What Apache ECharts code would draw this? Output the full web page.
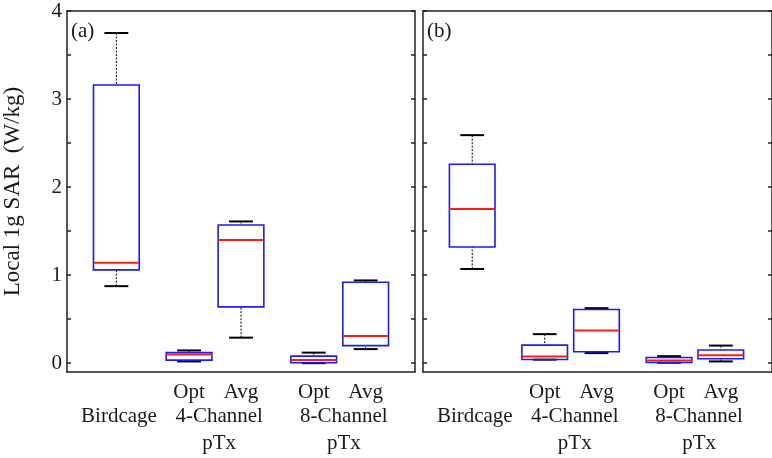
<!DOCTYPE html>
<html>
<head>
<meta charset="utf-8">
<script src="https://cdn.jsdelivr.net/npm/echarts@6/dist/echarts.min.js"></script>
<style>html,body{margin:0;padding:0;background:#fff;}#c{width:772px;height:458px;}</style>
</head>
<body>
<div id="c"></div>
<script>
// ---- data ----
const categories = ['Birdcage', '4-Channel Opt', '4-Channel Avg', '8-Channel Opt', '8-Channel Avg'];
const positions = [1, 2.4, 3.4, 4.8, 5.8];
// each row: [lower whisker, q1, median, q3, upper whisker]
const panelA = [
  [0.875, 1.06, 1.14, 3.16, 3.75],
  [0.02, 0.035, 0.10, 0.12, 0.145],
  [0.29, 0.64, 1.40, 1.57, 1.61],
  [0.00, 0.005, 0.035, 0.08, 0.12],
  [0.16, 0.20, 0.31, 0.92, 0.94]
];
const panelB = [
  [1.07, 1.32, 1.75, 2.26, 2.59],
  [0.04, 0.042, 0.076, 0.205, 0.33],
  [0.115, 0.13, 0.37, 0.61, 0.625],
  [0.005, 0.008, 0.03, 0.065, 0.08],
  [0.02, 0.05, 0.09, 0.15, 0.20]
];
const panelTags = ['(a)', '(b)'];
const row1Labels = ['Opt', 'Avg', 'Opt', 'Avg'];
const row1Pos = [2.4, 3.4, 4.8, 5.8];
const row2Labels = ['Birdcage', '4-Channel', '8-Channel'];
const row2Pos = [1.05, 2.98, 5.38];
const row3Labels = ['pTx', 'pTx'];
const row3Pos = [2.98, 5.38];
const yTicks = [0, 0.5, 1, 1.5, 2, 2.5, 3, 3.5, 4];
const yTickLabels = [0, 1, 2, 3, 4];
const yName = 'Local 1g SAR  (W/kg)';

// ---- rendering ----
const FONT = 'Liberation Serif';
const FS = 21;
const TXT = '#1a1a1a';
const X_MIN = 0.05, X_MAX_A = 6.75, X_MAX_B = 6.788, Y_MIN = -0.1, Y_MAX = 4;
const BOX_W = 0.88, CAP_W = 0.46;

function boxRender(params, api) {
  const x = api.value(0);
  const lo = api.value(1), q1 = api.value(2), med = api.value(3), q3 = api.value(4), hi = api.value(5);
  const c = (a, b) => api.coord([a, b]);
  const hw = BOX_W / 2, cw = CAP_W / 2;
  const pHi = c(x, hi), pQ3 = c(x, q3), pQ1 = c(x, q1), pLo = c(x, lo);
  const bl = c(x - hw, q3), br = c(x + hw, q1);
  const mL = c(x - hw, med), mR = c(x + hw, med);
  const dotted = { stroke: '#000', lineWidth: 1, lineDash: [2, 1.5] };
  const cap = { stroke: '#000', lineWidth: 2 };
  return {
    type: 'group',
    children: [
      { type: 'line', shape: { x1: pHi[0], y1: pHi[1], x2: pQ3[0], y2: pQ3[1] }, style: dotted },
      { type: 'line', shape: { x1: pLo[0], y1: pLo[1], x2: pQ1[0], y2: pQ1[1] }, style: dotted },
      { type: 'line', shape: { x1: c(x - cw, hi)[0], y1: pHi[1], x2: c(x + cw, hi)[0], y2: pHi[1] }, style: cap },
      { type: 'line', shape: { x1: c(x - cw, lo)[0], y1: pLo[1], x2: c(x + cw, lo)[0], y2: pLo[1] }, style: cap },
      { type: 'rect', shape: { x: bl[0], y: bl[1], width: br[0] - bl[0], height: br[1] - bl[1] },
        style: { fill: 'none', stroke: '#1a1aff', lineWidth: 1.6 } },
      { type: 'line', shape: { x1: mL[0], y1: mL[1], x2: mR[0], y2: mR[1] }, style: { stroke: '#ff1a1a', lineWidth: 2 } }
    ]
  };
}

function boxData(panel) {
  return positions.map((x, i) => [x].concat(panel[i]));
}

function labelItems() {
  const items = [];
  row1Labels.forEach((t, i) => items.push({ x: row1Pos[i], row: 0, text: t }));
  row2Labels.forEach((t, i) => items.push({ x: row2Pos[i], row: 1, text: t }));
  row3Labels.forEach((t, i) => items.push({ x: row3Pos[i], row: 2, text: t }));
  return items;
}
const LABELS = labelItems();
const ROW_OFF = [20, 44, 71];

function labelRender(params, api) {
  const it = LABELS[params.dataIndex];
  const p = api.coord([it.x, Y_MIN]);
  return {
    type: 'text',
    style: { text: it.text, x: p[0], y: p[1] + ROW_OFF[it.row], align: 'center', verticalAlign: 'middle',
      font: FS + 'px "' + FONT + '"', fill: TXT }
  };
}

function tagRender(tag) {
  return function (params, api) {
    const p = api.coord([X_MIN, Y_MAX]);
    return { type: 'text', style: { text: tag, x: p[0] + 4, y: p[1] + 20, align: 'left', verticalAlign: 'middle',
      font: FS + 'px "' + FONT + '"', fill: TXT } };
  };
}

function yAxisDef(grid, pos, showLabel, name) {
  return {
    type: 'value', gridIndex: grid, position: pos, min: Y_MIN, max: Y_MAX,
    axisLine: { show: true, onZero: false, lineStyle: { color: '#222', width: 1.5 } },
    axisTick: { show: true, inside: true, length: 4, customValues: yTicks, lineStyle: { color: '#222', width: 1.5 } },
    axisLabel: { show: showLabel, customValues: yTickLabels, margin: 5, fontFamily: FONT, fontSize: FS, color: TXT },
    splitLine: { show: false },
    name: name || '', nameLocation: 'middle', nameGap: 43, nameRotate: 90,
    nameTextStyle: { fontFamily: FONT, fontSize: 23, color: TXT }
  };
}

function xAxisDef(grid, pos, xMax) {
  return {
    type: 'value', gridIndex: grid, position: pos, min: X_MIN, max: xMax,
    axisLine: { show: true, onZero: false, lineStyle: { color: '#222', width: 1.5 } },
    axisTick: { show: false }, axisLabel: { show: false }, splitLine: { show: false }
  };
}

const chart = echarts.init(document.getElementById('c'), null, { renderer: 'canvas' });
chart.setOption({
  animation: false,
  backgroundColor: '#fff',
  grid: [
    { left: 66, top: 11, width: 349, height: 361 },
    { left: 423, top: 11, width: 351, height: 361 }
  ],
  xAxis: [xAxisDef(0, 'bottom', X_MAX_A), xAxisDef(0, 'top', X_MAX_A), xAxisDef(1, 'bottom', X_MAX_B), xAxisDef(1, 'top', X_MAX_B)],
  yAxis: [yAxisDef(0, 'left', true, yName), yAxisDef(0, 'right', false), yAxisDef(1, 'left', false), yAxisDef(1, 'right', false)],
  series: [
    { type: 'custom', name: '(a)', xAxisIndex: 0, yAxisIndex: 0, data: boxData(panelA), encode: { x: 0, y: [1, 2, 3, 4, 5] }, renderItem: boxRender },
    { type: 'custom', name: '(b)', xAxisIndex: 2, yAxisIndex: 2, data: boxData(panelB), encode: { x: 0, y: [1, 2, 3, 4, 5] }, renderItem: boxRender },
    { type: 'custom', xAxisIndex: 0, yAxisIndex: 0, data: LABELS.map(l => [l.x, 0]), renderItem: labelRender, clip: false, silent: true },
    { type: 'custom', xAxisIndex: 2, yAxisIndex: 2, data: LABELS.map(l => [l.x, 0]), renderItem: labelRender, clip: false, silent: true },
    { type: 'custom', xAxisIndex: 0, yAxisIndex: 0, data: [[X_MIN, Y_MAX]], renderItem: tagRender(panelTags[0]), silent: true },
    { type: 'custom', xAxisIndex: 2, yAxisIndex: 2, data: [[X_MIN, Y_MAX]], renderItem: tagRender(panelTags[1]), silent: true }
  ]
});
</script>
</body>
</html>
